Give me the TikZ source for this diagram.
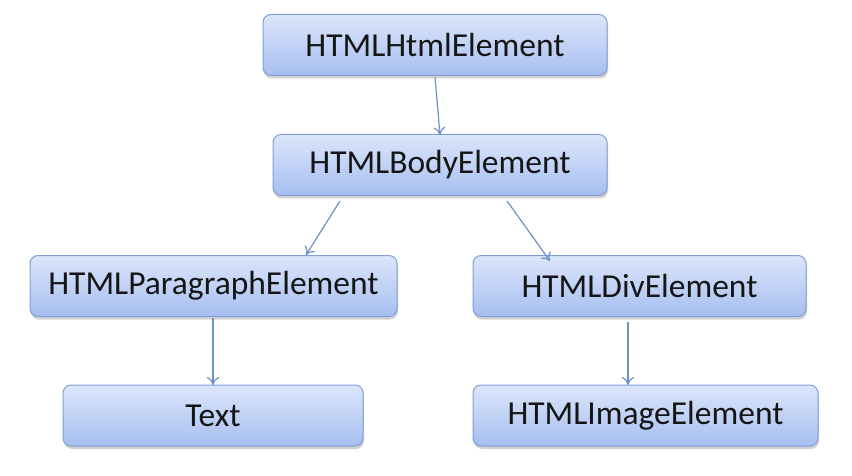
\documentclass[tikz,border=0pt]{standalone}
\usepackage{fontspec}
\setmainfont{Carlito}
\usetikzlibrary{shadows,arrows.meta}
\definecolor{boxtop}{HTML}{DCE6FB}
\definecolor{boxbot}{HTML}{A6BEF0}
\definecolor{boxedge}{HTML}{7F9FD6}
\definecolor{arrowc}{HTML}{7090C8}
\definecolor{txt}{HTML}{151515}
\begin{document}
\begin{tikzpicture}[x=1pt,y=-1pt,
  elbox/.style={draw=boxedge, line width=1pt, rounded corners=8pt,
    top color=boxtop, bottom color=boxbot,
    drop shadow={shadow xshift=1pt, shadow yshift=-3pt, fill=black!35, opacity=0.5},
    minimum height=61pt, inner sep=0pt, font=\fontsize{33.5}{36}\selectfont, text=txt},
  link/.style={draw=arrowc, line width=1.2pt, -{To[length=8pt,width=12pt]}}]
\useasboundingbox (0,0) rectangle (852,476);
\node[elbox, minimum width=344pt] (html) at (435,45) {HTMLHtmlElement};
\node[elbox, minimum width=334pt] (body) at (440,165) {HTMLBodyElement};
\node[elbox, minimum width=367pt] (para) at (213.5,286) {HTMLParagraphElement};
\node[elbox, minimum width=333pt] (div) at (639.5,286) {HTMLDivElement};
\node[elbox, minimum width=300pt] (text) at (213,415.5) {Text};
\node[elbox, minimum width=345pt] (img) at (645.5,415.5) {HTMLImageElement};
\coordinate (a1) at (435,77);
\coordinate (a2) at (440,135);
\coordinate (b1) at (340,201);
\coordinate (b2) at (306,255);
\coordinate (c1) at (507,201);
\coordinate (c2) at (550,261);
\coordinate (d1) at (213,318);
\coordinate (d2) at (213,385);
\coordinate (e1) at (628,322);
\coordinate (e2) at (628,385);
\draw[link] (a1) -- (a2);
\draw[link] (b1) -- (b2);
\draw[link] (c1) -- (c2);
\draw[link] (d1) -- (d2);
\draw[link] (e1) -- (e2);
\end{tikzpicture}
\end{document}
